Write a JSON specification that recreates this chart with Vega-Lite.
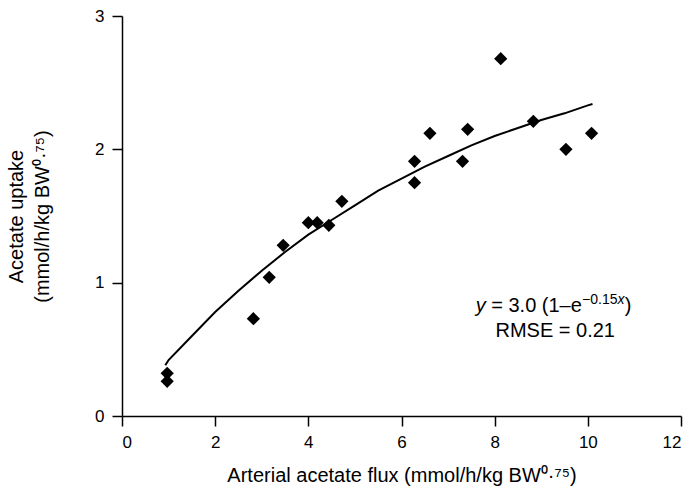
{
  "$schema": "https://vega.github.io/schema/vega-lite/v6.json",
  "width": 559,
  "height": 400,
  "autosize": {"type": "none"},
  "padding": {"left": 122, "top": 16, "right": 11, "bottom": 72},
  "background": "white",
  "config": {
    "view": {"stroke": null},
    "font": "Liberation Sans",
    "axis": {
      "domainColor": "black",
      "domainWidth": 1.5,
      "tickColor": "black",
      "tickWidth": 1.5,
      "tickSize": 10,
      "grid": false,
      "labelColor": "black",
      "titleColor": "black",
      "labelFont": "Liberation Sans",
      "titleFont": "Liberation Sans",
      "labelFontSize": 17,
      "titleFontSize": 20,
      "titleFontWeight": "normal"
    }
  },
  "datasets": {
    "obs": [
      {"flux": 0.97, "uptake": 0.32},
      {"flux": 0.97, "uptake": 0.26},
      {"flux": 2.82, "uptake": 0.73},
      {"flux": 3.16, "uptake": 1.04},
      {"flux": 3.46, "uptake": 1.28},
      {"flux": 4.0, "uptake": 1.45},
      {"flux": 4.19, "uptake": 1.45},
      {"flux": 4.44, "uptake": 1.43},
      {"flux": 4.72, "uptake": 1.61},
      {"flux": 6.28, "uptake": 1.91},
      {"flux": 6.28, "uptake": 1.75},
      {"flux": 6.61, "uptake": 2.12},
      {"flux": 7.31, "uptake": 1.91},
      {"flux": 7.42, "uptake": 2.15},
      {"flux": 8.13, "uptake": 2.68},
      {"flux": 8.83, "uptake": 2.21},
      {"flux": 9.53, "uptake": 2.0},
      {"flux": 10.08, "uptake": 2.12}
    ],
    "fit": [
      {"flux": 0.93, "uptake": 0.38},
      {"flux": 1.0, "uptake": 0.42},
      {"flux": 1.5, "uptake": 0.6},
      {"flux": 2.0, "uptake": 0.78},
      {"flux": 2.5, "uptake": 0.94},
      {"flux": 3.0, "uptake": 1.09},
      {"flux": 3.5, "uptake": 1.23},
      {"flux": 4.0, "uptake": 1.36},
      {"flux": 4.5, "uptake": 1.47},
      {"flux": 5.0, "uptake": 1.58},
      {"flux": 5.5, "uptake": 1.69},
      {"flux": 6.0, "uptake": 1.78},
      {"flux": 6.5, "uptake": 1.87},
      {"flux": 7.0, "uptake": 1.95},
      {"flux": 7.5, "uptake": 2.03},
      {"flux": 8.0, "uptake": 2.1},
      {"flux": 8.5, "uptake": 2.16},
      {"flux": 9.0, "uptake": 2.22},
      {"flux": 9.5, "uptake": 2.27},
      {"flux": 10.0, "uptake": 2.33},
      {"flux": 10.1, "uptake": 2.34}
    ],
    "eq": [
      {"flux": 9.3, "uptake": 0.78}
    ],
    "rmse": [
      {"flux": 9.3, "uptake": 0.5925, "label": "RMSE = 0.21"}
    ]
  },
  "layer": [
    {
      "data": {"name": "fit"},
      "mark": {"type": "line", "color": "black", "strokeWidth": 2},
      "encoding": {
        "x": {
          "field": "flux", "type": "quantitative",
          "scale": {"domain": [0, 12], "nice": false, "zero": false},
          "axis": {
            "values": [0, 2, 4, 6, 8, 10, 12],
            "format": "d",
            "labelPadding": 8,
            "title": "Arterial acetate flux (mmol/h/kg BW⁰·⁷⁵)",
            "titlePadding": 15
          }
        },
        "y": {
          "field": "uptake", "type": "quantitative",
          "scale": {"domain": [0, 3], "nice": false},
          "axis": {
            "values": [0, 1, 2, 3],
            "format": "d",
            "labelPadding": 8,
            "title": ["Acetate uptake", "(mmol/h/kg BW⁰·⁷⁵)"],
            "titleLineHeight": 26,
            "titlePadding": 42
          }
        }
      }
    },
    {
      "data": {"name": "obs"},
      "mark": {"type": "point", "shape": "diamond", "filled": true, "color": "black", "opacity": 1, "size": 175},
      "encoding": {
        "x": {"field": "flux", "type": "quantitative"},
        "y": {"field": "uptake", "type": "quantitative"}
      }
    },
    {
      "data": {"name": "eq"},
      "mark": {"type": "text", "text": "y", "color": "black", "fontSize": 20, "fontStyle": "italic", "align": "left", "baseline": "alphabetic", "dx": -79.6},
      "encoding": {
        "x": {"field": "flux", "type": "quantitative"},
        "y": {"field": "uptake", "type": "quantitative"}
      }
    },
    {
      "data": {"name": "eq"},
      "mark": {"type": "text", "text": "= 3.0 (1–e", "color": "black", "fontSize": 20, "align": "left", "baseline": "alphabetic", "dx": -64.0},
      "encoding": {
        "x": {"field": "flux", "type": "quantitative"},
        "y": {"field": "uptake", "type": "quantitative"}
      }
    },
    {
      "data": {"name": "eq"},
      "mark": {"type": "text", "text": "−0.15", "color": "black", "fontSize": 14, "align": "left", "baseline": "alphabetic", "dx": 26.8, "dy": -8},
      "encoding": {
        "x": {"field": "flux", "type": "quantitative"},
        "y": {"field": "uptake", "type": "quantitative"}
      }
    },
    {
      "data": {"name": "eq"},
      "mark": {"type": "text", "text": "x", "color": "black", "fontSize": 14, "fontStyle": "italic", "align": "left", "baseline": "alphabetic", "dx": 62.2, "dy": -8},
      "encoding": {
        "x": {"field": "flux", "type": "quantitative"},
        "y": {"field": "uptake", "type": "quantitative"}
      }
    },
    {
      "data": {"name": "eq"},
      "mark": {"type": "text", "text": ")", "color": "black", "fontSize": 20, "align": "left", "baseline": "alphabetic", "dx": 69.5},
      "encoding": {
        "x": {"field": "flux", "type": "quantitative"},
        "y": {"field": "uptake", "type": "quantitative"}
      }
    },
    {
      "data": {"name": "rmse"},
      "mark": {"type": "text", "color": "black", "fontSize": 20, "align": "center", "baseline": "alphabetic"},
      "encoding": {
        "x": {"field": "flux", "type": "quantitative"},
        "y": {"field": "uptake", "type": "quantitative"},
        "text": {"field": "label"}
      }
    }
  ]
}
